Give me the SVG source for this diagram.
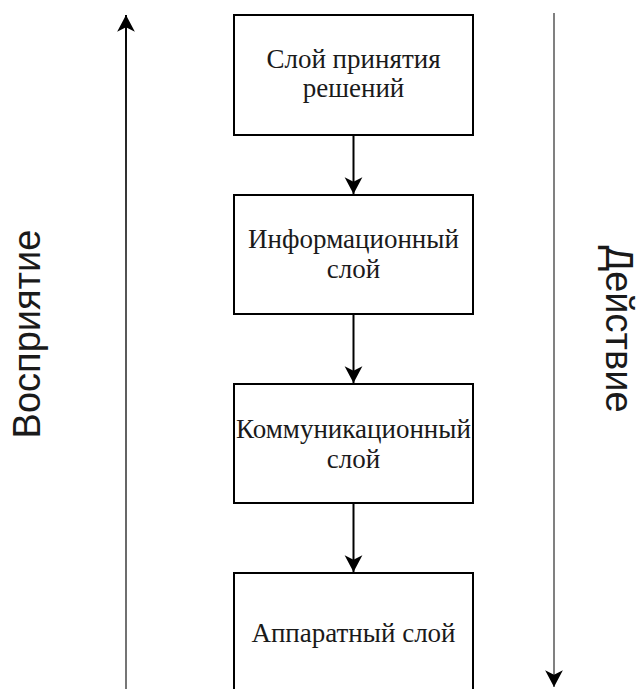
<svg xmlns="http://www.w3.org/2000/svg" width="640" height="689" viewBox="0 0 640 689">
  <style>
    .box { fill: #ffffff; stroke: #000000; stroke-width: 2; }
    .lbl { font-family: "Liberation Serif", "Times New Roman", serif; font-size: 27px; fill: #1a1a1a; text-anchor: middle; }
    .side { font-family: "Liberation Sans", Arial, sans-serif; font-size: 38px; fill: #1a1a1a; text-anchor: middle; }
    .conn { stroke: #000000; stroke-width: 2; fill: none; }
  </style>
  <defs>
    <marker id="arrow" markerUnits="userSpaceOnUse" markerWidth="20" markerHeight="20" viewBox="-16 -9 18 18" refX="0" refY="0" orient="auto">
      <path d="M0,0 L-15,-8 L-11,0 L-15,8 Z" fill="#000000"/>
    </marker>
    <linearGradient id="fadeUp" gradientUnits="userSpaceOnUse" x1="0" y1="689" x2="0" y2="15">
      <stop offset="0" stop-color="#777777"/>
      <stop offset="0.6" stop-color="#555555"/>
      <stop offset="1" stop-color="#000000"/>
    </linearGradient>
  </defs>

  <!-- side axes -->
  <g id="axis-perception">
    <line x1="126" y1="700" x2="126" y2="15" stroke="url(#fadeUp)" stroke-width="2" marker-end="url(#arrow)"/>
    <text class="side" transform="translate(40,334) rotate(-90)">Восприятие</text>
  </g>
  <g id="axis-action">
    <line x1="554" y1="13" x2="554" y2="687" stroke="#808080" stroke-width="2" marker-end="url(#arrow)"/>
    <text class="side" transform="translate(606,329) rotate(90)">Действие</text>
  </g>

  <!-- connectors between layers -->
  <g id="connectors">
    <line class="conn" x1="353.5" y1="135" x2="353.5" y2="194" marker-end="url(#arrow)"/>
    <line class="conn" x1="353.5" y1="314" x2="353.5" y2="383" marker-end="url(#arrow)"/>
    <line class="conn" x1="353.5" y1="503" x2="353.5" y2="572" marker-end="url(#arrow)"/>
  </g>

  <!-- layers -->
  <g id="decision-layer">
    <rect class="box" x="234" y="15" width="239" height="120"/>
    <text class="lbl" x="353.5" y="68">Слой принятия</text>
    <text class="lbl" x="353.5" y="97">решений</text>
  </g>
  <g id="information-layer">
    <rect class="box" x="234" y="195" width="239" height="119"/>
    <text class="lbl" x="353.5" y="248">Информационный</text>
    <text class="lbl" x="353.5" y="278">слой</text>
  </g>
  <g id="communication-layer">
    <rect class="box" x="234" y="384" width="239" height="119"/>
    <text class="lbl" x="353.5" y="438">Коммуникационный</text>
    <text class="lbl" x="353.5" y="468">слой</text>
  </g>
  <g id="hardware-layer">
    <rect class="box" x="234" y="573" width="239" height="120"/>
    <text class="lbl" x="353.5" y="642">Аппаратный слой</text>
  </g>
</svg>
